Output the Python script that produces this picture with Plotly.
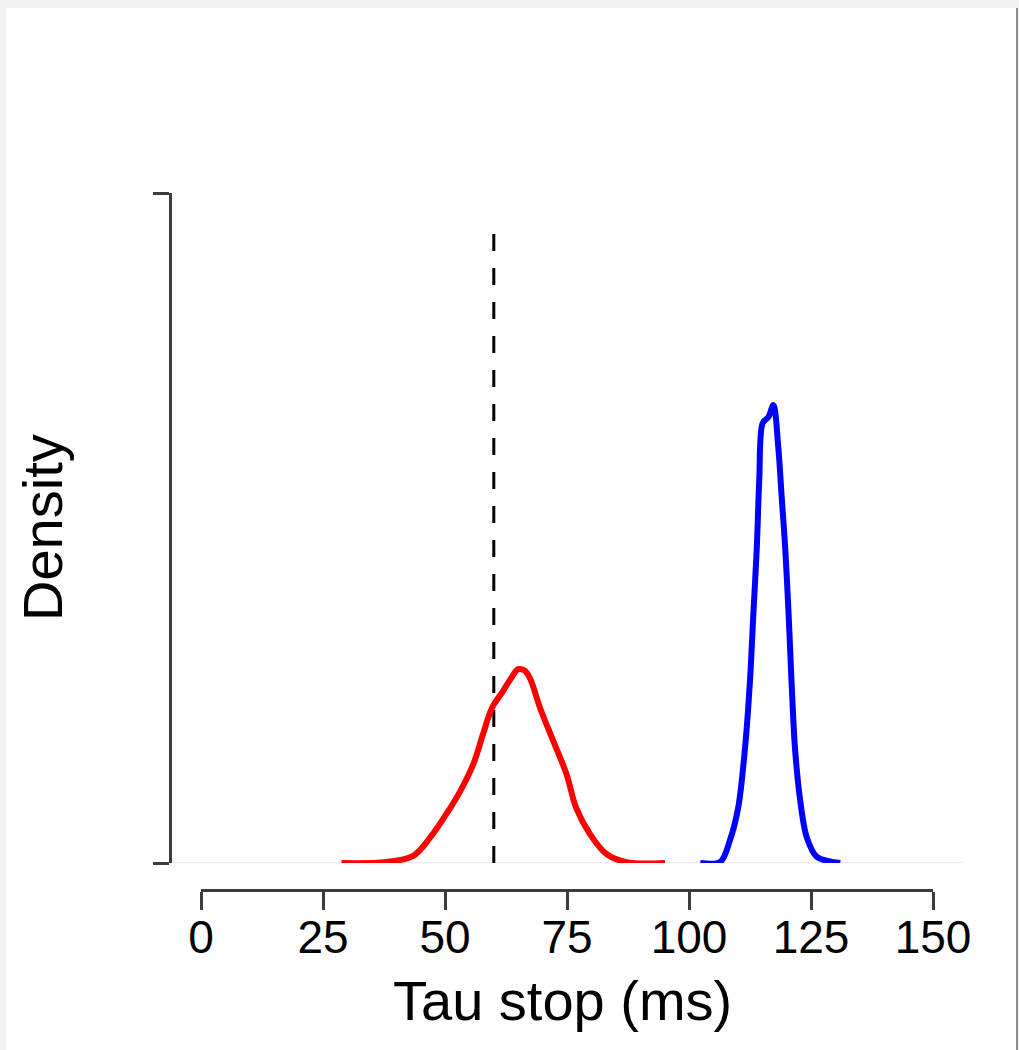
import plotly.graph_objects as go

W, H = 1019, 1050

# ---- data ----
red_x = [28.8, 38.0, 43.5, 46.9, 50.3, 53.1, 55.8, 57.8, 59.6, 61.9, 63.5, 65.0, 66.3, 67.4,
         69.5, 72.2, 74.9, 76.9, 79.7, 83.1, 87.2, 95.1]
red_y = [0.0, 0.0003, 0.0020, 0.0070, 0.0137, 0.0200, 0.0276, 0.0360, 0.0432, 0.0480,
         0.0515, 0.0541, 0.0537, 0.0516, 0.0432, 0.0340, 0.0248, 0.0153, 0.0081, 0.0025,
         0.0002, 0.0]

blue_x = [102.3, 106.4, 108.4, 110.1, 111.5, 112.5, 113.2, 113.9, 114.4, 115.1, 116.3,
          117.3, 118.3, 119.0, 119.7, 120.4, 121.0, 121.7, 122.7, 124.1, 126.2, 131.0]
blue_y = [0.0, 0.0003, 0.0064, 0.0156, 0.0324, 0.0510, 0.0698, 0.0882, 0.1070, 0.1228,
          0.1245, 0.1278, 0.1160, 0.1020, 0.0882, 0.0698, 0.0510, 0.0324, 0.0184, 0.0073,
          0.0017, 0.0]

ref_x = [60, 60]
ref_y = [0.0, 0.177]

x_ticks = [0, 25, 50, 75, 100, 125, 150]
y_ticks = [0.0, 0.187]

FONT = "Liberation Sans, Arial, sans-serif"
AX = "#3c3c3c"

fig = go.Figure()
fig.add_trace(go.Scatter(x=ref_x, y=ref_y, mode="lines",
                         line=dict(color="black", width=3, dash="17px,17px"),
                         hoverinfo="skip", showlegend=False))
fig.add_trace(go.Scatter(x=red_x, y=red_y, mode="lines",
                         line=dict(color="#ff0000", width=6, shape="spline", smoothing=1.0),
                         showlegend=False))
fig.add_trace(go.Scatter(x=blue_x, y=blue_y, mode="lines",
                         line=dict(color="#0000ff", width=6, shape="spline", smoothing=0.9),
                         showlegend=False))

def px(xp):
    return xp / W

def py(yp):
    return 1 - yp / H

fig.update_layout(
    width=W, height=H, autosize=False,
    margin=dict(l=0, r=0, t=0, b=0, pad=0, autoexpand=False),
    paper_bgcolor="#f1f1f1",
    plot_bgcolor="rgba(0,0,0,0)",
    font=dict(family=FONT, color="black"),
    xaxis=dict(domain=[px(201), px(933)], range=[0, 150], anchor="free", position=py(890),
               automargin=False,
               showline=True, linecolor=AX, linewidth=3, showgrid=False, zeroline=False,
               tickmode="array", tickvals=x_ticks, ticks="outside", ticklen=18,
               tickwidth=3, tickcolor=AX, ticklabelstandoff=-12,
               tickfont=dict(size=46, family=FONT, color="black")),
    yaxis=dict(domain=[py(863), py(193)], range=[0, 0.187], anchor="free", position=px(170),
               automargin=False,
               showline=True, linecolor=AX, linewidth=3, showgrid=False, zeroline=False,
               tickmode="array", tickvals=y_ticks, ticks="outside", ticklen=16,
               tickwidth=3, tickcolor=AX, showticklabels=False),
    shapes=[
        dict(type="rect", xref="paper", yref="paper", x0=px(6), x1=px(1016), y0=0, y1=py(8),
             fillcolor="white", line=dict(width=0), layer="below"),
        dict(type="line", xref="paper", yref="paper", x0=px(1017), x1=px(1017), y0=0, y1=py(8),
             line=dict(color="#8c8c8c", width=2), layer="below"),
        dict(type="line", xref="paper", yref="y", x0=px(170), x1=px(963), y0=0, y1=0,
             line=dict(color="#ebebeb", width=2), layer="below"),
    ],
    annotations=[
        dict(text="Tau stop (ms)", xref="paper", yref="paper", x=px(562), y=py(1000),
             xanchor="center", yanchor="middle", showarrow=False,
             font=dict(size=56, family=FONT, color="black")),
        dict(text="Density", xref="paper", yref="paper", x=px(42), y=py(528),
             xanchor="center", yanchor="middle", textangle=-90, showarrow=False,
             font=dict(size=56, family=FONT, color="black")),
    ],
)

fig.write_html("out.html")
